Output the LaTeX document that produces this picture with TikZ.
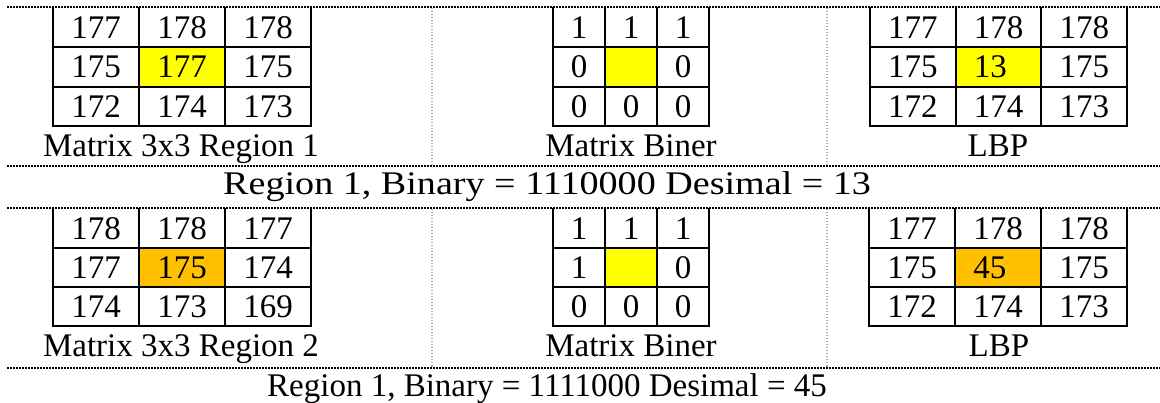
\documentclass[tikz,border=0pt]{standalone}
\usepackage{fontspec}
\setmainfont{Liberation Serif}
\usepackage{graphicx}

\definecolor{hlyellow}{RGB}{255,255,0}
\definecolor{hlorange}{RGB}{255,192,0}
\definecolor{sepblue}{RGB}{150,170,205}

\tikzset{
  cell/.style={inner sep=0pt, font=\fontsize{33}{36}\selectfont},
  caption/.style={inner sep=0pt, anchor=base, font=\fontsize{33}{36}\selectfont},
  summary/.style={inner sep=0pt, anchor=base west, font=\fontsize{33}{36}\selectfont},
  gridline/.style={line width=2pt, black, line cap=rect},
  rowsep/.style={line width=2pt, black, dash pattern=on 1.6pt off 1.4pt},
  colsep/.style={line width=1.5pt, sepblue, dash pattern=on 1.5pt off 1.5pt},
}

% 3x3 value table without top rule:
% #1 name, #2 left x, #3 top y, #4 cell width, #5 row height, #6 nine entries, #7 centre fill
\newcommand\valtable[7]{%
  \fill[#7] ({#2+#4},{#3+#5}) rectangle ({#2+2*#4},{#3+2*#5});
  \foreach \v [count=\k from 0] in {#6} {
    \pgfmathtruncatemacro\rr{\k/3}
    \pgfmathtruncatemacro\cc{mod(\k,3)}
    \node[cell] (#1-\rr\cc) at ({#2+(\cc+0.5)*#4},{#3+(\rr+0.5)*#5}) {\v};
  }
  \foreach \i in {0,...,3} {
    \draw[gridline] ({#2+\i*#4},#3) -- ({#2+\i*#4},{#3+3*#5});
  }
  \foreach \j in {1,2,3} {
    \draw[gridline] (#2,{#3+\j*#5}) -- ({#2+3*#4},{#3+\j*#5});
  }
}

\begin{document}
\begin{tikzpicture}[x=1pt, y=-1pt]
  \fill[white] (0,0) rectangle (1160,403);
  \useasboundingbox (0,0) rectangle (1160,403);

  % ---- first region ----
  \valtable{ma}{53}{8}{86}{39.33}{177,178,178,175,177,175,172,174,173}{hlyellow}
  \valtable{ba}{553}{8}{52}{39.33}{1,1,1,0,{},0,0,0,0}{hlyellow}
  \valtable{la}{870}{8}{85.7}{39.33}{177,178,178,175,13\hphantom{0},175,172,174,173}{hlyellow}

  \node[caption] (capma) at (181,157) {Matrix 3x3 Region 1};
  \node[caption] (capba) at (631,157) {Matrix Biner};
  \node[caption] (capla) at (998,157) {LBP};

  \node[summary] (suma) at (223,195)
    {\scalebox{1.155}[1]{Region 1, Binary = 1110000 Desimal = 13}};

  % ---- second region ----
  \valtable{mb}{53}{209}{86}{39}{178,178,177,177,175,174,174,173,169}{hlorange}
  \valtable{bb}{553}{209}{52}{39}{1,1,1,1,{},0,0,0,0}{hlyellow}
  \valtable{lb}{869}{209}{86}{39}{177,178,178,175,45\hphantom{0},175,172,174,173}{hlorange}

  \node[caption] (capmb) at (181,357) {Matrix 3x3 Region 2};
  \node[caption] (capbb) at (631,357) {Matrix Biner};
  \node[caption] (caplb) at (999,357) {LBP};

  \node[summary] (sumb) at (267,397) {Region 1, Binary = 1111000 Desimal = 45};

  % ---- separators ----
  \foreach \y in {7,166,208,368} {
    \draw[rowsep] (7,\y) -- (1160,\y);
  }
  \foreach \x in {432,827} {
    \draw[colsep] (\x,8) -- (\x,165);
    \draw[colsep] (\x,209) -- (\x,367);
  }
\end{tikzpicture}
\end{document}
